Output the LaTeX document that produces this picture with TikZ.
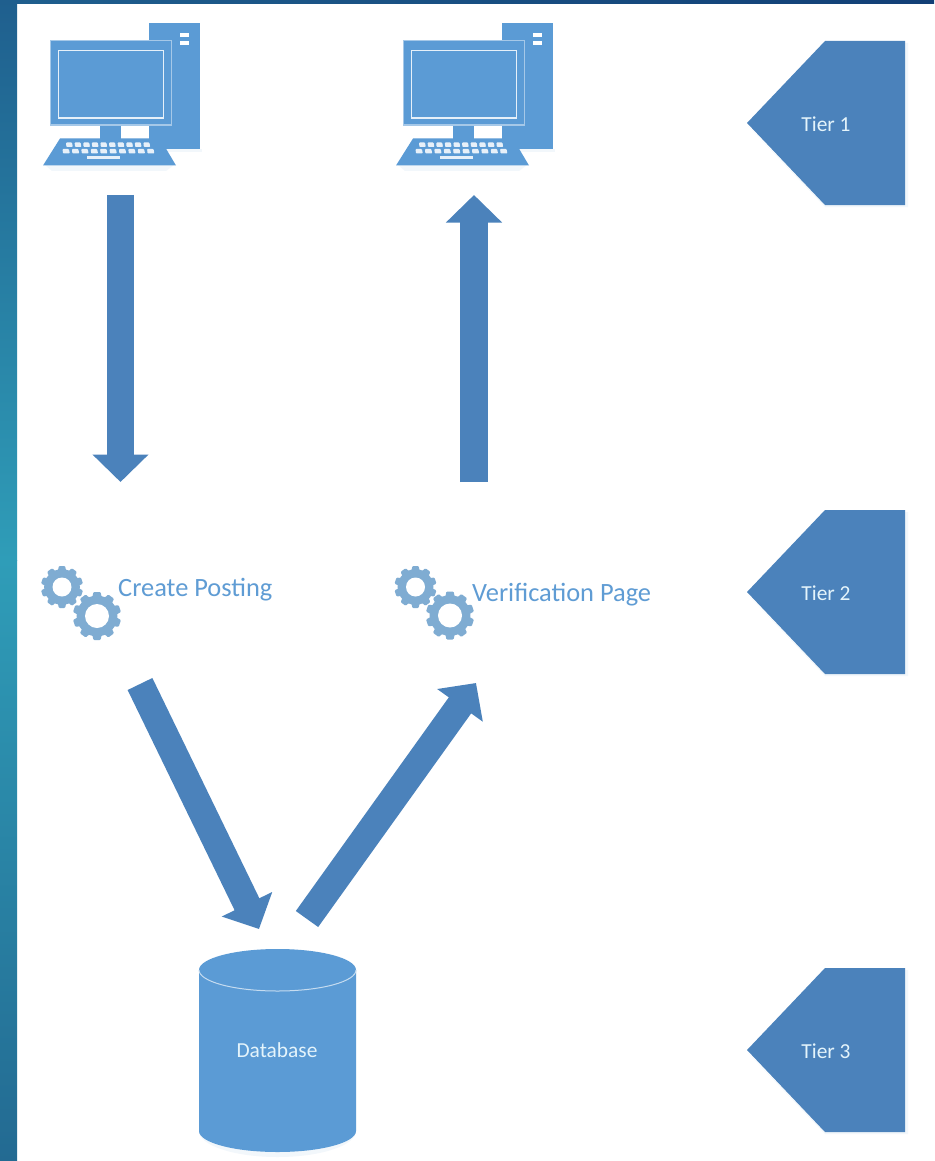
\documentclass[tikz,border=0pt]{standalone}
\usepackage{fontspec}
\setmainfont{Carlito}
\usetikzlibrary{arrows.meta}
\definecolor{pcblue}{HTML}{5B9BD5}
\definecolor{shapeblue}{HTML}{4B82BB}
\definecolor{gearblue}{HTML}{7FACD2}
\definecolor{labelblue}{HTML}{5F9CD4}
\definecolor{paletext}{HTML}{E4F4FB}
\definecolor{frameA}{HTML}{1F5F8E}
\definecolor{frameB}{HTML}{2F9DB8}
\definecolor{frameC}{HTML}{236A92}
\definecolor{frameD}{HTML}{123F76}
\tikzset{
  blockarrow/.style={draw=shapeblue,line width=27.5pt,
    -{Triangle[width=54.5pt,length=27.5pt,fill=shapeblue]}},
  tiershape/.style={fill=shapeblue},
  tierlabel/.style={text=paletext,font=\fontsize{21.4}{24}\selectfont,inner sep=0pt},
  steplabel/.style={text=labelblue,font=\fontsize{26.4}{30}\selectfont,inner sep=0pt,anchor=west},
  softshade/.style={fill=pcblue,opacity=0.08},
}
\newcommand{\pcicon}[1]{%
  \begin{scope}[shift={(#1,0)}]
    \fill[softshade] (45,165) -- (174,165) -- (166,171) -- (52,171) -- cycle;
    \fill[softshade] (149,149) rectangle (202,152);
    \fill[pcblue] (149,23) rectangle (200,149);
    \fill[white] (180,33.5) rectangle (189,37.5);
    \fill[white] (180,41.5) rectangle (189,45);
    \fill[pcblue] (100,125) rectangle (121,139);
    \fill[white!45!pcblue] (49.5,40.5) rectangle (172,126);
    \fill[pcblue] (50.5,41.5) rectangle (170.5,124.5);
    \draw[draw=white!85!pcblue,line width=1.2pt] (58.5,50.5) rectangle (163.5,118);
    \fill[pcblue] (60,138.5) -- (160,138.5) -- (176,165.5) -- (43,165.5) -- cycle;
    \foreach \i in {0,...,9} {
      \fill[white!85!pcblue,rounded corners=0.8pt] ({66+\i*8.6},142.5) -- ++(6,0) -- ++(0.8,4.5) -- ++(-6.4,0) -- cycle;
      \fill[white!85!pcblue,rounded corners=0.8pt] ({62.5+\i*9.4},149) -- ++(6.4,0) -- ++(0.9,4.5) -- ++(-6.8,0) -- cycle;
    }
    \fill[white!85!pcblue] (87,155.8) rectangle (120,158.6);
  \end{scope}%
}
\newcommand{\gearicon}[4]{%
  \begin{scope}[shift={(#1,#2)}]
    \fill[gearblue] (0,0) circle ({#3*0.85});
    \foreach \a in {0,36,...,324} {
      \fill[gearblue,rotate=\a+18,rounded corners=1pt]
        ({#3*0.75},{-#3*0.2}) -- ({#3},{-#3*0.15}) -- ({#3},{#3*0.15}) -- ({#3*0.75},{#3*0.2}) -- cycle;
    }
    \fill[white] (0,0) circle (#4);
  \end{scope}%
}
\newcommand{\tiershapeat}[1]{%
  \fill[softshade] (748,{#1+3}) -- (825,{#1+84}) -- (908,{#1+84}) -- (908,{#1-80}) -- (905,{#1-80}) -- (905,{#1+82}) -- (825,{#1+82}) -- cycle;
  \fill[tiershape] (747,#1) -- (825,{#1-82}) -- (905,{#1-82}) -- (905,{#1+82}) -- (825,{#1+82}) -- cycle;
}
\begin{document}
\begin{tikzpicture}[x=1pt,y=-1pt]
  \useasboundingbox (0,0) rectangle (934,1161);
  \fill[white] (0,0) rectangle (934,1161);
  % slide frame
  \shade[top color=frameA,bottom color=frameB] (0,0) rectangle (17,560);
  \shade[top color=frameB,bottom color=frameC] (0,560) rectangle (17,1161);
  \shade[left color=frameA,right color=frameD] (0,0) rectangle (934,4);

  % computers
  \pcicon{0}
  \pcicon{353}

  % tier shapes
  \tiershapeat{123}
  \tiershapeat{592}
  \tiershapeat{1050}
  \node[tierlabel] (tier1) at (826,124) {Tier 1};
  \node[tierlabel] (tier2) at (826,593) {Tier 2};
  \node[tierlabel] (tier3) at (826,1051) {Tier 3};

  % gears and labels
  \gearicon{62}{587}{21}{9.5}
  \gearicon{97}{616}{24}{12}
  \gearicon{415.5}{587}{21}{9.5}
  \gearicon{450}{615.5}{24}{12}
  \node[steplabel] (create) at (118,590) {Create Posting};
  \node[steplabel] (verify) at (472,595) {Verification Page};

  % database
  \fill[softshade] (199,1131) arc[start angle=180,end angle=0,x radius=78.5,y radius=26] -- cycle;
  \fill[pcblue] (199,970) arc[start angle=180,end angle=360,x radius=78.5,y radius=21]
    -- (356,1131) arc[start angle=0,end angle=180,x radius=78.5,y radius=21] -- cycle;
  \draw[white!65!pcblue,line width=1pt] (199,970) arc[start angle=180,end angle=0,x radius=78.5,y radius=21];
  \node[text=paletext,font=\fontsize{21.4}{24}\selectfont,inner sep=0pt] (database) at (277,1050) {Database};

  % flow arrows
  \coordinate (a1s) at (120.5,195);  \coordinate (a1e) at (120.5,482);
  \coordinate (a2s) at (474,482);    \coordinate (a2e) at (474,195);
  \coordinate (a3s) at (140,684);    \coordinate (a3e) at (259,929);
  \coordinate (a4s) at (307,919);    \coordinate (a4e) at (476,683);
  \draw[blockarrow] (a1s) -- (a1e);
  \draw[blockarrow] (a2s) -- (a2e);
  \draw[blockarrow] (a3s) -- (a3e);
  \draw[blockarrow] (a4s) -- (a4e);
\end{tikzpicture}
\end{document}
